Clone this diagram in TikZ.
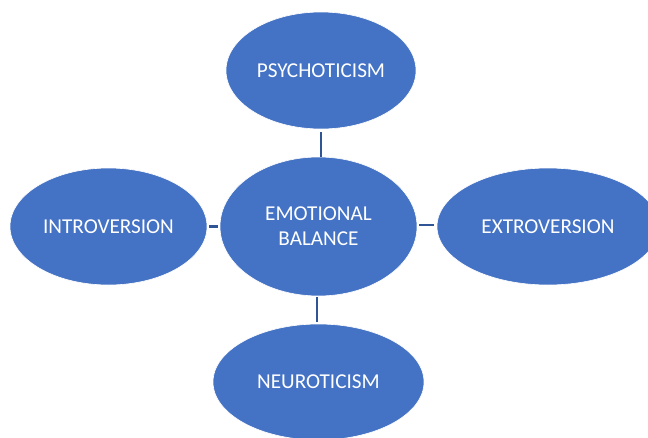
\documentclass[tikz,border=0pt]{standalone}
\usepackage{fontspec}
\setmainfont{Carlito}
\usetikzlibrary{shapes.geometric}
\definecolor{fillblue}{HTML}{4472C4}
\definecolor{linkblue}{HTML}{2F5597}
\tikzset{
  bubble/.style={ellipse, fill=fillblue, draw=white, line width=0.6pt, inner sep=0pt,
    text=white, font=\fontsize{21.2}{25}\selectfont, align=center},
  link/.style={draw=linkblue, line width=2.6pt}
}
\begin{document}
\begin{tikzpicture}[x=1pt,y=-1pt]
\useasboundingbox (0,0) rectangle (648,437);
\begin{scope}
\clip (0,0) rectangle (648,437);
\node[bubble, minimum width=190pt, minimum height=117pt] (psy) at (321,70.5) {PSYCHOTICISM};
\node[bubble, minimum width=197pt, minimum height=139pt] (cen) at (318.5,226.5) {EMOTIONAL\\BALANCE};
\node[bubble, minimum width=197pt, minimum height=117pt] (intro) at (108.5,226.5) {INTROVERSION};
\node[bubble, minimum width=222pt, minimum height=117pt] (extro) at (548,226.5) {EXTROVERSION};
\node[bubble, minimum width=211pt, minimum height=116pt] (neuro) at (318.5,382) {NEUROTICISM};
\end{scope}
\draw[link, shorten <=3pt] (psy.south) -- (psy.south |- cen.north);
\draw[link, shorten <=2pt, shorten >=2pt] (intro.east) -- (cen.west);
\draw[link, shorten <=2pt, shorten >=3pt] ([yshift=1.5pt]cen.east) -- ([yshift=1.5pt]cen.east -| extro.west);
\draw[link, shorten <=1pt, shorten >=2pt] ([xshift=-1.5pt]cen.south) -- ([xshift=-1.5pt]cen.south |- neuro.north);
\end{tikzpicture}
\end{document}
